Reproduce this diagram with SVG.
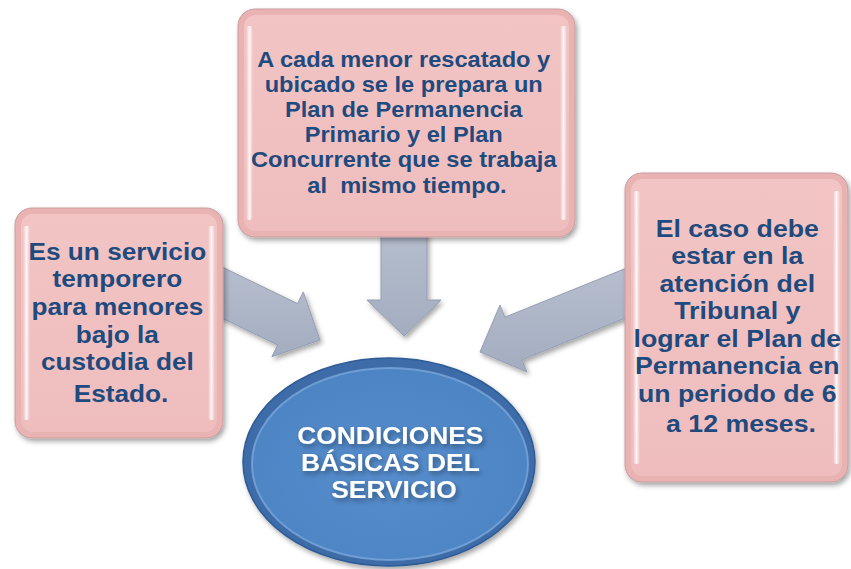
<svg xmlns="http://www.w3.org/2000/svg" width="851" height="569" viewBox="0 0 851 569">
<defs>
<filter id="sh" x="-10%" y="-10%" width="125%" height="125%">
<feDropShadow dx="2" dy="3" stdDeviation="2.5" flood-color="#000" flood-opacity="0.35"/>
</filter>
<linearGradient id="ag" x1="0" y1="0" x2="0" y2="1">
<stop offset="0" stop-color="#B6BECE"/>
<stop offset="1" stop-color="#A4ADC0"/>
</linearGradient>
<linearGradient id="hl" x1="0" y1="0" x2="1" y2="0">
<stop offset="0" stop-color="#fff" stop-opacity="0"/>
<stop offset="0.5" stop-color="#fff" stop-opacity="0.85"/>
<stop offset="1" stop-color="#fff" stop-opacity="0"/>
</linearGradient>
<linearGradient id="bg" x1="0" y1="0" x2="0" y2="1">
<stop offset="0" stop-color="#F2C4C4"/>
<stop offset="1" stop-color="#EFBDBD"/>
</linearGradient>
<radialGradient id="eg" cx="0.5" cy="0.55" r="0.55">
<stop offset="0" stop-color="#568DCD"/>
<stop offset="1" stop-color="#4D84C4"/>
</radialGradient>
</defs>
<style>
.arrow{fill:url(#ag);stroke:#959EB2;stroke-width:1;filter:url(#sh)}
.bo{fill:#E9B3B3;stroke:#C99C9C;stroke-width:1;filter:url(#sh)}
.bi{fill:url(#bg)}
.hl{fill:url(#hl)}
.t{font-family:"Liberation Sans",Arial,sans-serif;font-weight:bold;fill:#1F4A7E;text-anchor:middle}
.et{font-family:"Liberation Sans",Arial,sans-serif;font-weight:bold;fill:#fff;text-anchor:middle;font-size:24px}
</style>
<g id="connectors">
<polygon class="arrow" points="216.6,264.4 297.6,303.6 303.3,291.9 320,340 271.9,356.7 277.6,345 196.6,305.8"/>
<polygon class="arrow" points="381,225 427,225 427,300 441,300 404,336 367,300 381,300"/>
<polygon class="arrow" points="634.6,264.8 504.8,317.2 500,305.1 480,352 526.9,371.9 522,359.8 651.8,307.4"/>
</g>
<g id="top-box">
<rect class="bo" x="238" y="9" width="337" height="228" rx="17"/>
<rect class="bi" x="244" y="15" width="325" height="216" rx="12"/>
<rect class="hl" x="246" y="26" width="7" height="194" rx="3"/>
<rect class="hl" x="560" y="26" width="7" height="194" rx="3"/>
<text class="t" font-size="22.5" transform="translate(407,0) scale(1.05,1)">
<tspan x="0" y="67">A cada menor rescatado y</tspan>
<tspan x="0" y="92">ubicado se le prepara un</tspan>
<tspan x="0" y="117">Plan de Permanencia</tspan>
<tspan x="0" y="142">Primario y el Plan</tspan>
<tspan x="0" y="167">Concurrente que se trabaja</tspan>
<tspan x="0" y="193" xml:space="preserve">al  mismo tiempo.</tspan>
</text>
</g>
<g id="left-box">
<rect class="bo" x="15" y="208" width="208" height="230" rx="17"/>
<rect class="bi" x="21" y="214" width="196" height="218" rx="12"/>
<rect class="hl" x="23" y="226" width="7" height="194" rx="3"/>
<rect class="hl" x="208" y="226" width="7" height="194" rx="3"/>
<text class="t" font-size="24.5" transform="translate(121,0) scale(1.07,1)">
<tspan x="0" y="260">Es un servicio</tspan>
<tspan x="0" y="287">temporero</tspan>
<tspan x="0" y="315">para menores</tspan>
<tspan x="0" y="343">bajo la</tspan>
<tspan x="0" y="370">custodia del</tspan>
<tspan x="0" y="402">Estado.</tspan>
</text>
</g>
<g id="right-box">
<rect class="bo" x="625" y="173" width="223" height="309" rx="17"/>
<rect class="bi" x="631" y="179" width="211" height="297" rx="12"/>
<rect class="hl" x="633" y="191" width="7" height="273" rx="3"/>
<rect class="hl" x="833" y="191" width="7" height="273" rx="3"/>
<text class="t" font-size="24.5" transform="translate(741,0) scale(1.09,1)">
<tspan x="0" y="237">El caso debe</tspan>
<tspan x="0" y="264">estar en la</tspan>
<tspan x="0" y="292">atención del</tspan>
<tspan x="0" y="319">Tribunal y</tspan>
<tspan x="0" y="347">lograr el Plan de</tspan>
<tspan x="0" y="374">Permanencia en</tspan>
<tspan x="0" y="402">un periodo de 6</tspan>
<tspan x="0" y="432">a 12 meses.</tspan>
</text>
</g>
<g id="center-node">
<ellipse cx="389" cy="462" rx="146" ry="104" fill="#3C6CA8" stroke="#2E5B95" stroke-width="1.5" filter="url(#sh)"/>
<ellipse cx="390" cy="464" rx="138" ry="96" fill="url(#eg)" stroke="#79A6DB" stroke-width="2" stroke-opacity="0.8"/>
<text class="et" transform="translate(394,0) scale(1.1,1)" filter="url(#sh)">
<tspan x="0" y="444">CONDICIONES</tspan>
<tspan x="0" y="471">BÁSICAS DEL</tspan>
<tspan x="0" y="498">SERVICIO</tspan>
</text>
</g>
</svg>
